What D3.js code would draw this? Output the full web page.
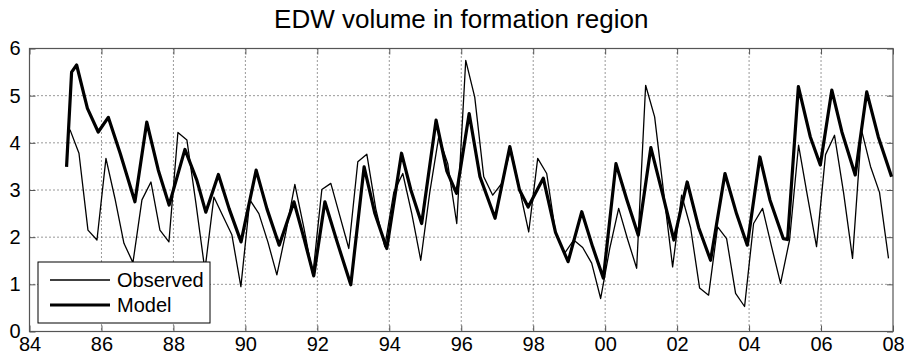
<!DOCTYPE html>
<html>
<head>
<meta charset="utf-8">
<script src="https://cdn.jsdelivr.net/npm/d3@7/dist/d3.min.js"></script>
<style>
  body { margin: 0; background: #fff; }
  svg { display: block; }
  text { font-family: "Liberation Sans", Arial, Helvetica, sans-serif; fill: #000; }
</style>
</head>
<body>
<svg id="chart" width="904" height="358"></svg>
<script>
// Observed EDW volume, quarterly, first sample mid-Q1 1985
const obsStart = 85.125;
const obsStep = 0.25;
const observedValues = [
  4.28, 3.78, 2.15, 1.94,   // 1985
  3.67, 2.82, 1.87, 1.46,   // 1986
  2.79, 3.17, 2.15, 1.90,   // 1987
  4.22, 4.06, 2.72, 1.30,   // 1988
  2.85, 2.45, 2.05, 0.95,   // 1989
  2.79, 2.50, 1.90, 1.20,   // 1990
  2.10, 3.12, 2.20, 1.20,   // 1991
  3.01, 3.14, 2.45, 1.76,   // 1992
  3.60, 3.76, 2.60, 1.80,   // 1993
  2.95, 3.35, 2.50, 1.51,   // 1994
  2.95, 4.13, 3.56, 2.29,   // 1995
  5.75, 4.97, 3.28, 2.89,   // 1996
  3.14, 3.88, 3.00, 2.11,   // 1997
  3.67, 3.35, 2.08, 1.66,   // 1998
  1.94, 1.78, 1.45, 0.70,   // 1999
  1.75, 2.61, 1.95, 1.34,   // 2000
  5.22, 4.55, 2.95, 1.37,   // 2001
  2.89, 2.20, 0.92, 0.77,   // 2002
  2.22, 1.97, 0.81, 0.53,   // 2003
  2.29, 2.61, 1.80, 1.02,   // 2004
  1.94, 3.95, 2.86, 1.80,   // 2005
  3.75, 4.16, 2.95, 1.55,   // 2006
  4.27, 3.50, 2.95, 1.55    // 2007
];

// Model EDW volume (year, value)
const modelYears = [
  85.03, 85.17, 85.31, 85.61, 85.91, 86.19, 86.52, 86.93, 87.26, 87.58, 87.88,
  88.32, 88.65, 88.90, 89.25, 89.55, 89.88, 90.30, 90.60, 90.94, 91.35, 91.62,
  91.90, 92.21, 92.55, 92.93, 93.30, 93.60, 93.93, 94.34, 94.60, 94.90, 95.30,
  95.60, 95.87, 96.22, 96.52, 96.94, 97.35, 97.62, 97.86, 98.28, 98.62, 98.97,
  99.35, 99.65, 99.95, 100.30, 100.60, 100.92, 101.27, 101.60, 101.91, 102.28,
  102.60, 102.93, 103.33, 103.65, 103.95, 104.30, 104.58, 104.95, 105.07, 105.37,
  105.70, 105.98, 106.30, 106.58, 106.95, 107.27, 107.59, 107.96
];
const modelValues = [
  3.49, 5.50, 5.65, 4.73, 4.23, 4.54, 3.78, 2.75, 4.44, 3.42, 2.68,
  3.86, 3.21, 2.53, 3.33, 2.60, 1.90, 3.42, 2.60, 1.83, 2.75, 2.00,
  1.18, 2.75, 1.90, 0.99, 3.49, 2.50, 1.76, 3.78, 3.00, 2.29, 4.48,
  3.40, 2.93, 4.62, 3.28, 2.40, 3.92, 3.00, 2.64, 3.25, 2.10, 1.48,
  2.54, 1.80, 1.13, 3.56, 2.80, 2.04, 3.90, 2.90, 1.94, 3.17,
  2.20, 1.51, 3.35, 2.50, 1.83, 3.70, 2.79, 1.97, 1.95, 5.19,
  4.13, 3.53, 5.12, 4.23, 3.32, 5.08, 4.13, 3.28
];

const xTicks = [84, 86, 88, 90, 92, 94, 96, 98, 100, 102, 104, 106, 108];
const xTickLabels = ["84", "86", "88", "90", "92", "94", "96", "98", "00", "02", "04", "06", "08"];
const yTicks = [0, 1, 2, 3, 4, 5, 6];
const yTickLabels = ["0", "1", "2", "3", "4", "5", "6"];
const seriesNames = ["Observed", "Model"];
const titleText = "EDW volume in formation region";

const observed = observedValues.map((v, i) => ({ t: obsStart + i * obsStep, v }));
const model = modelYears.map((t, i) => ({ t, v: modelValues[i] }));

const svg = d3.select("#chart");
const plot = { left: 29.5, right: 893, top: 48.5, bottom: 331.5 };

const x = d3.scaleLinear().domain([84, 108]).range([plot.left, plot.right]);
const y = d3.scaleLinear().domain([0, 6]).range([plot.bottom, plot.top]);

const tickLen = 6;
const axisColor = "#555";
const labelSize = 20;

// dotted grid
const grid = svg.append("g");
grid.selectAll("line.gx").data(xTicks.slice(1, -1)).join("line")
  .attr("x1", d => x(d)).attr("x2", d => x(d))
  .attr("y1", plot.top).attr("y2", plot.bottom)
  .attr("stroke", "#333").attr("stroke-width", 1).attr("stroke-dasharray", "1,3");
grid.selectAll("line.gy").data(yTicks.slice(1, -1)).join("line")
  .attr("x1", plot.left).attr("x2", plot.right)
  .attr("y1", d => y(d)).attr("y2", d => y(d))
  .attr("stroke", "#333").attr("stroke-width", 1).attr("stroke-dasharray", "1,3");

// bottom and left axes, ticks pointing inward
const xAxis = d3.axisBottom(x).tickValues(xTicks)
  .tickFormat((d, i) => xTickLabels[i]).tickSizeInner(-tickLen).tickSizeOuter(0).tickPadding(5);
const yAxis = d3.axisLeft(y).tickValues(yTicks)
  .tickFormat((d, i) => yTickLabels[i]).tickSizeInner(-tickLen).tickSizeOuter(0).tickPadding(9);

const gx = svg.append("g").attr("transform", `translate(0,${plot.bottom})`).call(xAxis);
const gy = svg.append("g").attr("transform", `translate(${plot.left},0)`).call(yAxis);
// mirrored ticks on top and right
const gxTop = svg.append("g").attr("transform", `translate(0,${plot.top})`)
  .call(d3.axisTop(x).tickValues(xTicks).tickSizeInner(-tickLen).tickSizeOuter(0).tickFormat(""));
const gyRight = svg.append("g").attr("transform", `translate(${plot.right},0)`)
  .call(d3.axisRight(y).tickValues(yTicks).tickSizeInner(-tickLen).tickSizeOuter(0).tickFormat(""));

[gx, gy, gxTop, gyRight].forEach(g => {
  g.select(".domain").remove();
  g.selectAll(".tick line").attr("stroke", axisColor).attr("stroke-width", 1);
  g.selectAll(".tick text").attr("font-size", labelSize)
    .attr("font-family", "Liberation Sans, Arial, sans-serif").attr("fill", "#000");
});

// axes frame
svg.append("rect")
  .attr("x", plot.left).attr("y", plot.top)
  .attr("width", plot.right - plot.left).attr("height", plot.bottom - plot.top)
  .attr("fill", "none").attr("stroke", axisColor).attr("stroke-width", 1.2);

// series
const line = d3.line().x(d => x(d.t)).y(d => y(d.v));
svg.append("path").datum(observed)
  .attr("d", line).attr("fill", "none").attr("stroke", "#000")
  .attr("stroke-width", 1.3).attr("stroke-linejoin", "round");
svg.append("path").datum(model)
  .attr("d", line).attr("fill", "none").attr("stroke", "#000")
  .attr("stroke-width", 3.2).attr("stroke-linejoin", "round");

// title
svg.append("text")
  .attr("x", (plot.left + plot.right) / 2).attr("y", 28)
  .attr("text-anchor", "middle").attr("font-size", 26)
  .text(titleText);

// legend
const lg = svg.append("g").attr("transform", "translate(38,262)");
lg.append("rect").attr("width", 172).attr("height", 61)
  .attr("fill", "#fff").attr("stroke", "#000").attr("stroke-width", 1);
const legendWidths = [1.3, 3.2];
seriesNames.forEach((name, i) => {
  const cy = 18 + i * 25;
  lg.append("line").attr("x1", 12).attr("x2", 72).attr("y1", cy).attr("y2", cy)
    .attr("stroke", "#000").attr("stroke-width", legendWidths[i]);
  lg.append("text").attr("x", 79).attr("y", cy + 7).attr("font-size", labelSize).text(name);
});
</script>
</body>
</html>
